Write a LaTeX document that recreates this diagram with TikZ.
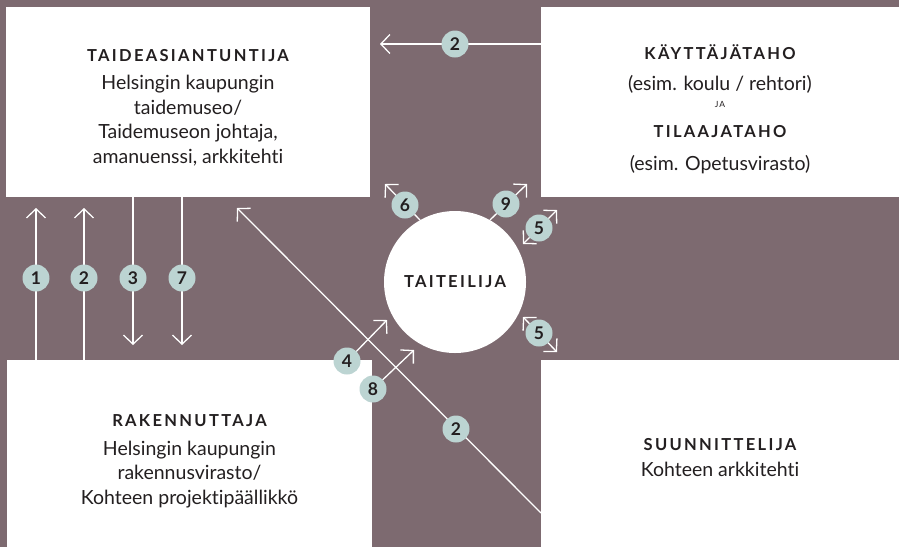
\documentclass[tikz,border=0pt]{standalone}
\usepackage{fontspec}
\setmainfont{Lato}[Ligatures=NoCommon]
\newfontfamily\ttl{Lato}[LetterSpace=14,Ligatures=NoCommon]
\usetikzlibrary{arrows.meta}
\definecolor{bg}{HTML}{7D6A70}
\definecolor{numc}{HTML}{BCD4D2}
\definecolor{ink}{HTML}{231F20}
\newcommand\ttlfont{\ttl\bfseries\fontsize{16.5}{20}\selectfont}
\begin{document}
\begin{tikzpicture}[x=1pt,y=-1pt,
  box/.style={fill=white, draw=none, inner sep=0},
  txt/.style={inner sep=0, align=center, text=ink,
    font=\fontsize{19.5}{24.5}\selectfont},
  numb/.style={circle, fill=numc, inner sep=0, minimum size=27pt, text=ink,
    font=\fontsize{17.5}{17.5}\selectfont\bfseries},
  flow/.style={draw=white, line width=1.3pt, -{Straight Barb[length=9pt,width=19pt]}},
  both/.style={draw=white, line width=1.3pt,
    {Straight Barb[length=9pt,width=19pt]}-{Straight Barb[length=9pt,width=19pt]}}]
\fill[bg] (0,0) rectangle (899,547);
\useasboundingbox (0,0) rectangle (899,547);
% boxes
\node[box, minimum width=364pt, minimum height=190pt] (tl) at (188,102) {};
\node[box, minimum width=358pt, minimum height=190pt] (tr) at (720,102) {};
\node[box, minimum width=365pt, minimum height=187pt] (bl) at (189.5,453.5) {};
\node[box, minimum width=358pt, minimum height=187pt] (br) at (720,453.5) {};
% texts
\node[txt] (tlt) at (188,107.5)
  {{\ttlfont TAIDEASIANTUNTIJA}\\[4pt]
   Helsingin kaupungin\\ taidemuseo/\\ Taidemuseon johtaja,\\ amanuenssi, arkkitehti};
\node[txt] (trt) at (720,109)
  {{\ttlfont KÄYTTÄJÄTAHO}\\[7pt]
   (esim. koulu / rehtori)\\[-8pt]
   {\fontsize{8.5}{10}\selectfont J\kern1pt A}\\[6pt]
   {\ttlfont TILAAJATAHO}\\[8pt]
   (esim. Opetusvirasto)};
\node[txt] (blt) at (189.5,461.5)
  {{\ttlfont RAKENNUTTAJA}\\[4pt]
   Helsingin kaupungin\\ rakennusvirasto/\\ Kohteen projektipäällikkö};
\node[txt] (brt) at (720,457.5)
  {{\ttlfont SUUNNITTELIJA}\\[2pt]
   Kohteen arkkitehti};
\node[circle, fill=white, minimum size=142pt, inner sep=0, text=ink,
  font=\ttlfont] (art) at (455,282) {TAITEILIJA};
% connector end points
\coordinate (s1) at (36,360);  \coordinate (e1) at (36,208);
\coordinate (s2) at (84,360);  \coordinate (e2) at (84,208);
\coordinate (s3) at (133,197); \coordinate (e3) at (133,345);
\coordinate (s7) at (182,197); \coordinate (e7) at (182,345);
\coordinate (st) at (541,44);  \coordinate (et) at (380,44);
\coordinate (sd) at (541,513); \coordinate (ed) at (237,208);
\coordinate (s4) at (347,361); \coordinate (e4) at (387,320);
\coordinate (s8) at (373,389); \coordinate (e8) at (414,350);
\coordinate (s6) at (420,220); \coordinate (e6) at (385,184);
\coordinate (s9) at (490,220); \coordinate (e9) at (527,184);
\coordinate (a5) at (523,244); \coordinate (b5) at (557,210);
\coordinate (c5) at (523,317); \coordinate (d5) at (557,352);
% connectors
\draw[flow] (s1) -- (e1);
\draw[flow] (s2) -- (e2);
\draw[flow] (s3) -- (e3);
\draw[flow] (s7) -- (e7);
\draw[flow] (st) -- (et);
\draw[flow] (sd) -- (ed);
\draw[flow] (s4) -- (e4);
\draw[flow] (s8) -- (e8);
\draw[flow] (s6) -- (e6);
\draw[flow] (s9) -- (e9);
\draw[both] (a5) -- (b5);
\draw[both] (c5) -- (d5);
% number badges
\node[numb] (n1) at (36,278) {1};
\node[numb] (n2a) at (84,278) {2};
\node[numb] (n3) at (133,278) {3};
\node[numb] (n7) at (182,278) {7};
\node[numb] (n2t) at (455,44) {2};
\node[numb] (n2d) at (456,429) {2};
\node[numb] (n4) at (347,361) {4};
\node[numb] (n8) at (373,389) {8};
\node[numb] (n6) at (405,205) {6};
\node[numb] (n9) at (506,204) {9};
\node[numb] (n5a) at (539,228) {5};
\node[numb] (n5b) at (539,333) {5};
\end{tikzpicture}
\end{document}
